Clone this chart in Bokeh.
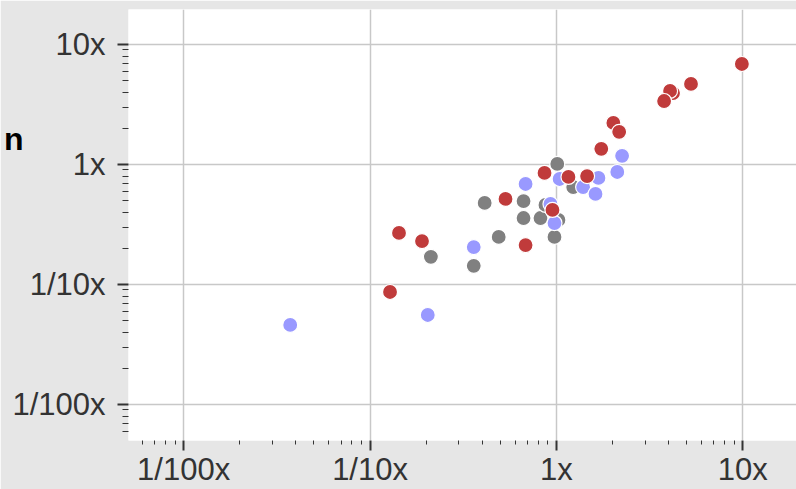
from bokeh.plotting import figure
from bokeh.models import Range1d, FixedTicker, CustomJSTickFormatter, LogAxis
from bokeh.embed import file_html
from bokeh.resources import INLINE

# ---- data ----
gray_x = [1.01, 1.23, 0.412, 0.666, 0.666, 0.821, 0.873, 0.976, 0.490, 0.212, 0.360, 1.025]
gray_y = [1.01, 0.649, 0.478, 0.496, 0.358, 0.358, 0.460, 0.249, 0.249, 0.170, 0.143, 0.345]

blue_x = [0.0373, 0.204, 0.360, 0.683, 0.929, 0.976, 1.04, 1.39, 1.68, 1.62, 2.12, 2.25]
blue_y = [0.046, 0.0557, 0.205, 0.688, 0.469, 0.325, 0.757, 0.649, 0.772, 0.568, 0.866, 1.18]

red_x = [9.88, 5.27, 4.22, 4.07, 3.78, 2.02, 2.17, 1.74, 0.863, 1.16, 1.46, 0.533, 0.952,
         0.683, 0.143, 0.190, 0.128]
red_y = [6.88, 4.69, 3.94, 4.10, 3.38, 2.22, 1.87, 1.35, 0.85, 0.787, 0.80, 0.516, 0.418,
         0.213, 0.269, 0.230, 0.0866]

tick_values = [0.01, 0.1, 1, 10]
tick_labels = ["1/100x", "1/10x", "1x", "10x"]
axis_title = "n"          # visible part of the (cut-off) y-axis title
axis_title_at = [1.62]    # y position (data) of that title

BG = "#e6e6e6"
TEXT = "#333333"

p = figure(width=796, height=489, x_axis_type="log", y_axis_type="log",
           x_range=Range1d(0.00506, 19.4), y_range=Range1d(0.00501, 19.57),
           output_backend="svg", toolbar_location=None,
           min_border_left=126, min_border_right=0, min_border_top=9, min_border_bottom=48)

p.border_fill_color = BG
p.background_fill_color = "white"
p.outline_line_color = None

minor = [m * 10.0 ** k for k in range(-3, 2) for m in range(2, 10)]
fmt = CustomJSTickFormatter(args=dict(vals=tick_values, labs=tick_labels), code="""
let best = 0, d = Infinity;
for (let i = 0; i < vals.length; i++) {
  const dd = Math.abs(Math.log10(tick) - Math.log10(vals[i]));
  if (dd < d) { d = dd; best = i; }
}
return labs[best];
""")

for ax, out_major, out_minor, standoff in ((p.xaxis[0], 10, 4, 1), (p.yaxis[0], 11, 6, 12)):
    ax.ticker = FixedTicker(ticks=tick_values, minor_ticks=minor)
    ax.formatter = fmt
    ax.axis_line_color = None
    ax.major_tick_in = 0
    ax.major_tick_out = out_major
    ax.minor_tick_in = 0
    ax.minor_tick_out = out_minor
    ax.major_tick_line_color = TEXT
    ax.major_tick_line_width = 2
    ax.minor_tick_line_color = TEXT
    ax.minor_tick_line_width = 1
    ax.major_label_text_font = "Liberation Sans"
    ax.major_label_text_font_size = "31px"
    ax.major_label_text_color = TEXT
    ax.major_label_standoff = standoff

# outer left axis that only carries the bold title fragment
title_axis = LogAxis(ticker=FixedTicker(ticks=axis_title_at, minor_ticks=[]),
                     formatter=CustomJSTickFormatter(args=dict(t=axis_title), code="return t;"),
                     axis_line_color=None, major_tick_line_color=None, minor_tick_line_color=None,
                     major_tick_in=0, major_tick_out=0, minor_tick_in=0, minor_tick_out=0,
                     major_label_standoff=-14,
                     major_label_text_font="Liberation Sans", major_label_text_font_style="bold",
                     major_label_text_font_size="32px", major_label_text_color="black")
p.add_layout(title_axis, "left")

for g in (p.xgrid[0], p.ygrid[0]):
    g.ticker = FixedTicker(ticks=tick_values)
    g.grid_line_color = "#c8c8c8"
    g.grid_line_width = 1.5

p.scatter(gray_x, gray_y, size=15, fill_color="#808080", line_color="white", line_width=1.2)
p.scatter(blue_x, blue_y, size=15, fill_color="#9999ff", line_color="white", line_width=1.2)
p.scatter(red_x, red_y, size=15, fill_color="#c03b3b", line_color="white", line_width=1.2)

open("out.html", "w").write(file_html(p, INLINE))
